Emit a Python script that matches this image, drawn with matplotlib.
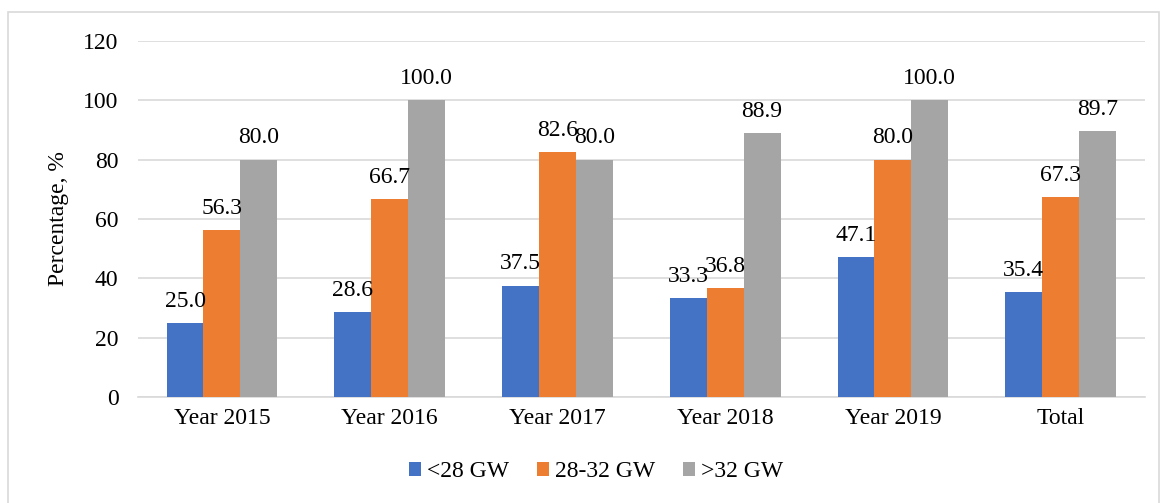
import numpy as np
import matplotlib.pyplot as plt
from matplotlib.patches import Rectangle

categories = ["Year 2015", "Year 2016", "Year 2017", "Year 2018", "Year 2019", "Total"]
below_28 = [25.0, 28.6, 37.5, 33.3, 47.1, 35.4]
mid_28_32 = [56.3, 66.7, 82.6, 36.8, 80.0, 67.3]
above_32 = [80.0, 100.0, 80.0, 88.9, 100.0, 89.7]
series_names = ["<28 GW", "28-32 GW", ">32 GW"]
colors = ["#4472C4", "#ED7D31", "#A5A5A5"]

plt.rcParams["font.family"] = ["Liberation Serif", "DejaVu Serif"]
fs = 17

fig = plt.figure(figsize=(11.62, 5.03), dpi=100)
ax = fig.add_axes([0.1188, 0.2107, 0.8662, 0.7078])
fig.patches.append(Rectangle((0.007, -0.01), 0.99, 0.986, transform=fig.transFigure,
                             fill=False, edgecolor="#D9D9D9", linewidth=1.2))

x = np.arange(len(categories))
w = 0.22
for i, (vals, name, c) in enumerate(zip([below_28, mid_28_32, above_32], series_names, colors)):
    pos = x + (i - 1) * w
    bars = ax.bar(pos, vals, width=w, color=c, label=name, zorder=3)
    for b, v in zip(bars, vals):
        ax.text(b.get_x() + b.get_width() / 2, v + 3.8, f"{v:.1f}", ha="center", va="bottom",
                fontsize=fs, zorder=4)

ax.set_xlim(-0.5, len(categories) - 0.5)
ax.set_ylim(0, 120)
ax.set_yticks(range(0, 121, 20))
ax.set_xticks(x)
ax.set_xticklabels(categories, fontsize=fs)
ax.tick_params(axis="y", labelsize=fs, length=0, pad=14)
ax.tick_params(axis="x", length=0, pad=8)
ax.grid(axis="y", color="#D9D9D9", linewidth=1.2, zorder=0)
for s in ["top", "right", "left"]:
    ax.spines[s].set_visible(False)
ax.spines["bottom"].set_color("#D9D9D9")
ax.spines["bottom"].set_linewidth(1.2)
ax.set_ylabel("Percentage, %", fontsize=fs, labelpad=10)

fig.legend(loc="center", bbox_to_anchor=(0.513, 0.062), ncol=3, frameon=False, fontsize=fs,
           handlelength=0.5, handleheight=0.5, handletextpad=0.25, columnspacing=1.2)

fig.savefig("out.png", dpi=100)
